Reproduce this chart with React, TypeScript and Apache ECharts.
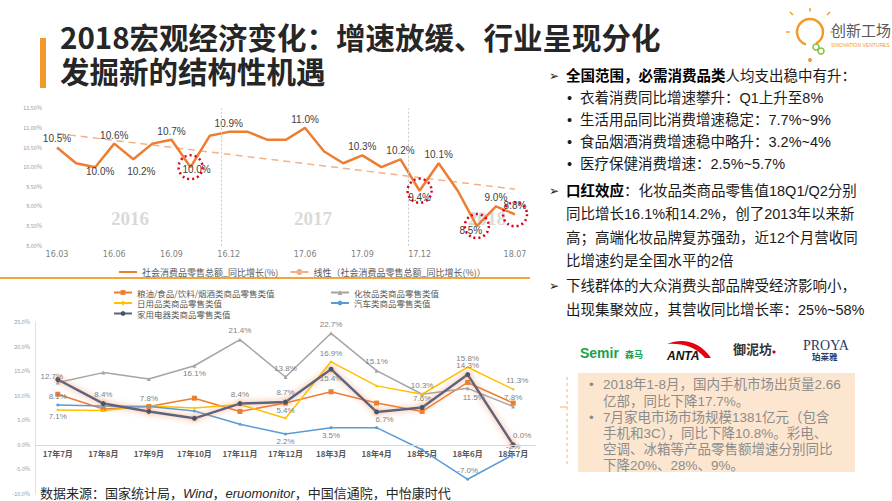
import React, { useEffect, useRef } from "react";
import * as echarts from "echarts";

// ---------------- data ----------------
const topCategories = [
  "16.03", "16.04", "16.05", "16.06", "16.07", "16.08", "16.09", "16.10", "16.11", "16.12",
  "17.03", "17.04", "17.05", "17.06", "17.07", "17.08", "17.09", "17.10", "17.11", "17.12",
  "18.03", "18.04", "18.05", "18.06", "18.07",
];
const topValues = [
  10.5, 10.1, 10.0, 10.6, 10.2, 10.6, 10.7, 10.0, 10.8, 10.9,
  10.9, 10.7, 10.7, 11.0, 10.4, 10.1, 10.3, 10.0, 10.2, 9.4,
  10.1, 9.4, 8.5, 9.0, 8.8,
];
const topAxisLabels = ["16.03", "16.06", "16.09", "16.12", "17.06", "17.09", "17.12", "18.07"];
const trendStartValue = 10.86;
const trendEndValue = 9.44;
const circledMonths = ["16.10", "17.12", "18.05", "18.07"];
const yearDividerPositions = [8.6, 18.4];
const yearLabels = ["2016", "2017", "2018"];
const topSeriesName = "社会消费品零售总额_同比增长(%)";
const trendSeriesName = "线性（社会消费品零售总额_同比增长(%)）";

const bottomCategories = [
  "17年7月", "17年8月", "17年9月", "17年10月", "17年11月", "17年12月",
  "18年3月", "18年4月", "18年5月", "18年6月", "18年7月",
];
const foodValues = [10.3, 7.3, 7.8, 9.5, 6.8, 8.5, 10.8, 8.5, 6.8, 12.7, 8.5];
const cosmeticsValues = [12.7, 14.7, 13.4, 16.1, 21.4, 13.8, 22.7, 15.1, 10.3, 11.5, 7.8];
const dailyValues = [7.1, 7.0, 7.9, 7.5, 8.2, 5.4, 16.9, 12.0, 10.3, 15.8, 11.3];
const autoValues = [8.1, 7.9, 7.8, 6.9, 4.2, 2.2, 3.5, 3.5, -1.0, -7.0, -2.0];
const applianceValues = [13.3, 8.4, 6.8, 5.4, 8.4, 8.7, 15.4, 6.7, 7.6, 14.3, 0.0];
const foodName = "粮油/食品/饮料/烟酒类商品零售类值";
const cosmeticsName = "化妆品类商品零售类值";
const dailyName = "日用品类商品零售类值";
const autoName = "汽车类商品零售类值";
const applianceName = "家用电器类商品零售类值";

// ---------------- styles ----------------
const CJK = '"Noto Sans CJK SC", sans-serif';
const TXT = '"Liberation Sans", "Noto Sans CJK SC", sans-serif';

const topLabelStyle: Record<string, any> = {
  "16.03": { position: "top", distance: 4 },
  "16.05": { position: "bottom", distance: -1, offset: [5, 0] },
  "16.06": { position: "top", distance: 3 },
  "16.07": { position: "bottom", distance: 7, offset: [8, 0] },
  "16.09": { position: "top", distance: 3 },
  "16.10": { position: "bottom", distance: -3, offset: [6, 0] },
  "16.12": { position: "top", distance: 3 },
  "17.06": { position: "top", distance: 3 },
  "17.09": { position: "top", distance: 3 },
  "17.11": { position: "top", distance: 3 },
  "17.12": { position: "bottom", distance: 1 },
  "18.03": { position: "top", distance: 3 },
  "18.05": { position: "bottom", distance: -1, offset: [-6, 0] },
  "18.06": { position: "top", distance: 3 },
  "18.07": { position: "top", distance: 3 },
};

const cosmeticsLabels: Record<number, any> = {
  0: { position: "top", distance: 0, offset: [-6, 0] },
  3: { position: "bottom", distance: 2 },
  4: { position: "top", distance: 3 },
  5: { position: "top", distance: 3 },
  6: { position: "top", distance: 3 },
  7: { position: "top", distance: 3 },
  8: { position: "top", distance: 3 },
  9: { position: "bottom", distance: 3, offset: [6, 0] },
  10: { position: "top", distance: 3 },
};
const dailyLabels: Record<number, any> = {
  0: { position: "bottom", distance: 1 },
  5: { position: "top", distance: 2 },
  6: { position: "top", distance: 3 },
  9: { position: "top", distance: 3 },
  10: { position: "top", distance: 3, offset: [4, 0] },
};
const autoLabels: Record<number, any> = {
  0: { position: "top", distance: 3 },
  2: { position: "top", distance: 3 },
  5: { position: "bottom", distance: 2 },
  6: { position: "bottom", distance: 2 },
  9: { position: "top", distance: 3 },
  10: { position: "top", distance: 3, formatter: "-2%" },
};
const applianceLabels: Record<number, any> = {
  1: { position: "top", distance: 3 },
  4: { position: "top", distance: 3 },
  5: { position: "top", distance: 3 },
  6: { position: "bottom", distance: 3 },
  7: { position: "bottom", distance: 1, offset: [8, 0] },
  8: { position: "top", distance: 3 },
  9: { position: "top", distance: 3 },
  10: { position: "top", distance: 3, offset: [9, 0] },
};

const pct1 = (p: any) => Number(p.value).toFixed(1) + "%";

function withLabels(values: number[], map: Record<number, any>) {
  return values.map((v, i) => (map[i] ? { value: v, label: { show: true, ...map[i] } } : v));
}

function t(x: number, y: number, text: string, o: any = {}) {
  return {
    type: "text",
    x,
    y,
    silent: true,
    z: 100,
    style: {
      text,
      fontSize: 14.5,
      fontFamily: TXT,
      fill: "#1a1a1a",
      align: "left",
      verticalAlign: "middle",
      ...o,
    },
  };
}

function buildGraphics() {
  const g: any[] = [];
  // title
  g.push({ type: "rect", shape: { x: 40, y: 38, width: 6, height: 50 }, style: { fill: "#f39a2b" }, silent: true });
  g.push(t(60, 36, "2018宏观经济变化：增速放缓、行业呈现分化", { fontSize: 29.5, fontWeight: "bold", fontFamily: CJK, fill: "#262626" }));
  g.push(t(60, 70, "发掘新的结构性机遇", { fontSize: 29.5, fontWeight: "bold", fontFamily: CJK, fill: "#262626" }));

  // logo
  g.push({ type: "arc", shape: { cx: 810, cy: 32, r: 13, startAngle: Math.PI * 0.6, endAngle: Math.PI * 2.35 }, style: { stroke: "#f39a2b", lineWidth: 2.5, fill: "none" }, silent: true });
  const rays = [[-1, -1], [0, -1.2], [1, -1], [-1.2, 0], [1.2, 0]];
  rays.forEach(([dx, dy]) => {
    g.push({ type: "line", shape: { x1: 810 + dx * 17, y1: 32 + dy * 17, x2: 810 + dx * 20, y2: 32 + dy * 20 }, style: { stroke: "#f39a2b", lineWidth: 1.5 }, silent: true });
  });
  g.push({ type: "circle", shape: { cx: 816, cy: 47, r: 3 }, style: { stroke: "#7cc142", lineWidth: 1.5, fill: "none" }, silent: true });
  g.push({ type: "circle", shape: { cx: 821, cy: 51, r: 3 }, style: { stroke: "#7cc142", lineWidth: 1.5, fill: "none" }, silent: true });
  g.push({ type: "circle", shape: { cx: 810, cy: 60, r: 2 }, style: { fill: "#f39a2b" }, silent: true });
  g.push(t(831, 29, "创新工场", { fontSize: 15, fontFamily: CJK, fill: "#595959" }));
  g.push(t(831, 45, "SINOVATION VENTURES", { fontSize: 5, fill: "#f39a2b" }));

  // right text block
  const rich = { b: { fontWeight: "bold", fontSize: 14.5, fontFamily: TXT, fill: "#000" } };
  g.push(t(549, 76, "➢", { fontSize: 12, fontFamily: '"DejaVu Sans"' }));
  g.push(t(566, 76, "{b|全国范围，必需消费品类}人均支出稳中有升：", { rich }));
  const bullets = [
    "衣着消费同比增速攀升：Q1上升至8%",
    "生活用品同比消费增速稳定：7.7%~9%",
    "食品烟酒消费增速稳中略升：3.2%~4%",
    "医疗保健消费增速：2.5%~5.7%",
  ];
  bullets.forEach((s, i) => {
    g.push(t(567, 98 + i * 22, "•", {}));
    g.push(t(580, 98 + i * 22, s, {}));
  });
  g.push(t(549, 191, "➢", { fontSize: 12, fontFamily: '"DejaVu Sans"' }));
  g.push(t(566, 191, "{b|口红效应}：化妆品类商品零售值18Q1/Q2分别", { rich }));
  g.push(t(566, 214, "同比增长16.1%和14.2%，创了2013年以来新"));
  g.push(t(566, 238, "高；高端化妆品牌复苏强劲，近12个月营收同"));
  g.push(t(566, 261, "比增速约是全国水平的2倍"));
  g.push(t(549, 286, "➢", { fontSize: 12, fontFamily: '"DejaVu Sans"' }));
  g.push(t(566, 286, "下线群体的大众消费头部品牌受经济影响小，"));
  g.push(t(566, 310, "出现集聚效应，其营收同比增长率：25%~58%"));

  // brands
  g.push(t(580, 353, "Semir", { fontSize: 14, fontWeight: "bold", fill: "#17a34a" }));
  g.push(t(625, 354, "森马", { fontSize: 9, fontWeight: "bold", fontFamily: CJK, fill: "#17a34a" }));
  g.push({ type: "antaSwoosh", x: 667, y: 341, silent: true, style: { fill: "#e60012" } });
  g.push(t(667, 356, "ANTA", { fontSize: 12, fontWeight: "bold", fontStyle: "italic", fill: "#111" }));
  g.push(t(733, 348, "御泥坊", { fontSize: 13, fontWeight: "bold", fontFamily: CJK, fill: "#333" }));
  g.push({ type: "circle", shape: { cx: 774, cy: 352, r: 1.6 }, style: { fill: "#d0021b" }, silent: true });
  g.push(t(803, 345, "PROYA", { fontSize: 14, fontFamily: '"Liberation Serif", serif', fill: "#2b3a6b" }));
  g.push(t(812, 356, "珀莱雅", { fontSize: 8.5, fontWeight: "bold", fontFamily: CJK, fill: "#2b3a6b" }));

  // bottom right box
  g.push({ type: "line", shape: { x1: 567, y1: 377, x2: 567, y2: 467 }, style: { stroke: "#f7b26a", lineWidth: 1, lineDash: [3, 3] }, silent: true });
  g.push({ type: "line", shape: { x1: 560, y1: 407, x2: 567, y2: 407 }, style: { stroke: "#f7b26a", lineWidth: 1 }, silent: true });
  g.push({ type: "rect", shape: { x: 578, y: 373, width: 277, height: 99 }, style: { fill: "#fde6cf" }, silent: true });
  const boxStyle = { fontSize: 13.5, fontFamily: TXT, fill: "#8c8c8c" };
  g.push(t(589, 384, "•", boxStyle));
  g.push(t(603, 384, "2018年1-8月，国内手机市场出货量2.66", boxStyle));
  g.push(t(603, 401, "亿部，同比下降17.7%。", boxStyle));
  g.push(t(589, 417, "•", boxStyle));
  g.push(t(603, 417, "7月家电市场市场规模1381亿元（包含", boxStyle));
  g.push(t(603, 433, "手机和3C），同比下降10.8%。彩电、", boxStyle));
  g.push(t(603, 449, "空调、冰箱等产品零售额增速分别同比", boxStyle));
  g.push(t(603, 465, "下降20%、28%、9%。", boxStyle));

  // left panel decorations
  g.push({ type: "rect", shape: { x: 0, y: 277, width: 530, height: 2 }, style: { fill: "#f5a43c" }, silent: true });
  const yearX = [130, 313, 487];
  yearLabels.forEach((y, i) => {
    g.push({
      type: "text", x: yearX[i], y: 218, silent: true, z: 1,
      style: { text: y, fontSize: 19, fontWeight: "bold", fontFamily: '"Liberation Serif", serif', fill: "#d9d9d9", align: "center", verticalAlign: "middle" },
    });
  });

  // source
  g.push(t(40, 493, "数据来源：国家统计局，{i|Wind}，{i|eruomonitor}，中国信通院，中怡康时代", {
    fontSize: 13, fill: "#262626",
    rich: { i: { fontStyle: "italic", fontSize: 13, fontFamily: TXT, fill: "#262626" } },
  }));
  return g;
}

export default function App() {
  const ref = useRef<HTMLDivElement>(null);
  useEffect(() => {
    if (!ref.current) return;
    try {
      echarts.graphic.registerShape(
        "antaSwoosh",
        echarts.graphic.extendPath("M0 3 C 14 -3, 32 -1, 44 17 L 38 17 C 29 6, 15 2, 0 3 Z", {})
      );
    } catch (e) {}
    const chart = echarts.init(ref.current, undefined, { renderer: "svg" });

    const topData = topValues.map((v, i) => {
      const s = topLabelStyle[topCategories[i]];
      return s ? { value: v, label: { show: true, ...s } } : v;
    });
    const bottomLabel = { show: false, formatter: pct1, fontSize: 8, color: "#7f7f7f", fontFamily: TXT };
    const legendText = { fontSize: 8.5, color: "#595959", fontFamily: CJK, lineHeight: 9 };

    const option: any = {
      animation: false,
      backgroundColor: "#ffffff",
      textStyle: { fontFamily: CJK },
      grid: [
        { left: 57, top: 108.3, width: 458, height: 137.4 },
        { left: 35, top: 322, width: 501, height: 172 },
      ],
      xAxis: [
        {
          type: "category", gridIndex: 0, data: topCategories, boundaryGap: false,
          axisLine: { show: false }, axisTick: { show: false }, splitLine: { show: false },
          axisLabel: {
            interval: (_i: number, v: string) => topAxisLabels.includes(v),
            fontSize: 8, color: "#7f7f7f", margin: 5, fontFamily: '"DejaVu Sans"',
          },
        },
        { type: "value", gridIndex: 0, min: 0, max: topCategories.length - 1, show: false },
        {
          type: "category", gridIndex: 1, data: bottomCategories, boundaryGap: true,
          axisLine: { show: false },
          axisTick: { show: false },
          axisLabel: { fontSize: 8, fontWeight: "bold", color: "#595959", margin: -45, fontFamily: CJK },
        },
      ],
      yAxis: [
        {
          type: "value", gridIndex: 0, min: 8, max: 11.5, interval: 0.5,
          splitLine: { show: false }, axisLine: { show: false }, axisTick: { show: false },
          axisLabel: { fontSize: 5.5, color: "#999", margin: 15, formatter: (v: number) => v.toFixed(2) + "%" },
        },
        {
          type: "value", gridIndex: 1, min: -10, max: 25, interval: 5,
          splitLine: { show: false }, axisLine: { show: true, onZero: false, lineStyle: { color: "#e0e0e0" } }, axisTick: { show: false },
          axisLabel: { fontSize: 5.5, color: "#999", margin: 5, formatter: (v: number) => v.toFixed(1) + "%" },
        },
      ],
      legend: [
        {
          left: 113, top: 262, itemWidth: 18, itemHeight: 8, itemGap: 11,
          data: [topSeriesName, trendSeriesName],
          textStyle: { fontSize: 9, color: "#595959", fontFamily: CJK, lineHeight: 10 },
        },
        {
          left: 108, top: 283, orient: "vertical", itemWidth: 18, itemHeight: 6, itemGap: 1.5,
          data: [foodName, dailyName, applianceName],
          textStyle: legendText,
        },
        {
          left: 325, top: 283, orient: "vertical", itemWidth: 18, itemHeight: 6, itemGap: 1.5,
          data: [cosmeticsName, autoName],
          textStyle: legendText,
        },
      ],
      series: [
        {
          name: trendSeriesName, type: "line", xAxisIndex: 0, yAxisIndex: 0,
          data: [[0, trendStartValue], [topCategories.length - 1, trendEndValue]],
          symbol: "none", color: "#f4b183",
          lineStyle: { color: "#f4b183", width: 1.5, type: [7, 5] },
          z: 2,
        },
        {
          name: "divider", type: "line", xAxisIndex: 1, yAxisIndex: 0, data: [],
          markLine: {
            silent: true, symbol: ["none", "none"], label: { show: false },
            lineStyle: { color: "#c8c8c8", type: [2, 2], width: 1 },
            data: yearDividerPositions.map((v) => ({ xAxis: v })),
          },
        },
        {
          name: topSeriesName, type: "line", xAxisIndex: 0, yAxisIndex: 0,
          data: topData, symbol: "circle", symbolSize: 1, showSymbol: true, showAllSymbol: true,
          color: "#ed7d31",
          itemStyle: { color: "rgba(237,125,49,0)", borderWidth: 0 },
          lineStyle: { color: "#ed7d31", width: 2.5 },
          label: { show: false, formatter: pct1, fontSize: 10, color: "#404040", fontFamily: TXT },
          markPoint: {
            silent: true, symbol: "circle", symbolSize: 24,
            itemStyle: { color: "rgba(0,0,0,0)", borderColor: "#e0001b", borderWidth: 2.5, borderType: [2, 3] },
            label: { show: false },
            data: circledMonths.map((m) => ({ coord: [m, topValues[topCategories.indexOf(m)]] })),
          },
          z: 3,
        },
        {
          name: foodName, type: "line", xAxisIndex: 2, yAxisIndex: 1, data: foodValues,
          color: "#ed7d31", symbol: "rect", symbolSize: 5, lineStyle: { width: 1.5, color: "#ed7d31" },
          label: bottomLabel,
          markLine: {
            silent: true, symbol: ["none", "none"], label: { show: false },
            lineStyle: { color: "#d9d9d9", type: "solid", width: 1 },
            data: [{ yAxis: 0 }],
          },
        },
        {
          name: cosmeticsName, type: "line", xAxisIndex: 2, yAxisIndex: 1, data: withLabels(cosmeticsValues, cosmeticsLabels),
          color: "#a5a5a5", symbol: "triangle", symbolSize: 4, lineStyle: { width: 1.5, color: "#a5a5a5" },
          label: bottomLabel,
        },
        {
          name: dailyName, type: "line", xAxisIndex: 2, yAxisIndex: 1, data: withLabels(dailyValues, dailyLabels),
          color: "#ffc000", symbol: "diamond", symbolSize: 3, lineStyle: { width: 1.5, color: "#ffc000" },
          label: bottomLabel,
        },
        {
          name: autoName, type: "line", xAxisIndex: 2, yAxisIndex: 1, data: withLabels(autoValues, autoLabels),
          color: "#5b9bd5", symbol: "circle", symbolSize: 3, lineStyle: { width: 1.5, color: "#5b9bd5" },
          label: bottomLabel,
        },
        {
          name: applianceName, type: "line", xAxisIndex: 2, yAxisIndex: 1, data: withLabels(applianceValues, applianceLabels),
          color: "#44546a", symbol: "circle", symbolSize: 5,
          itemStyle: { color: "#44546a", shadowColor: "rgba(240,140,80,0.8)", shadowBlur: 5 },
          lineStyle: { width: 2.5, color: "#5a6380", shadowColor: "rgba(240,140,80,0.85)", shadowBlur: 6 },
          label: bottomLabel,
        },
      ],
      graphic: buildGraphics(),
    };
    chart.setOption(option);
    return () => chart.dispose();
  }, []);
  return (
    <div
      ref={ref}
      style={{ position: "absolute", left: 0, top: 0, width: 892, height: 501, background: "#fff" }}
    />
  );
}
